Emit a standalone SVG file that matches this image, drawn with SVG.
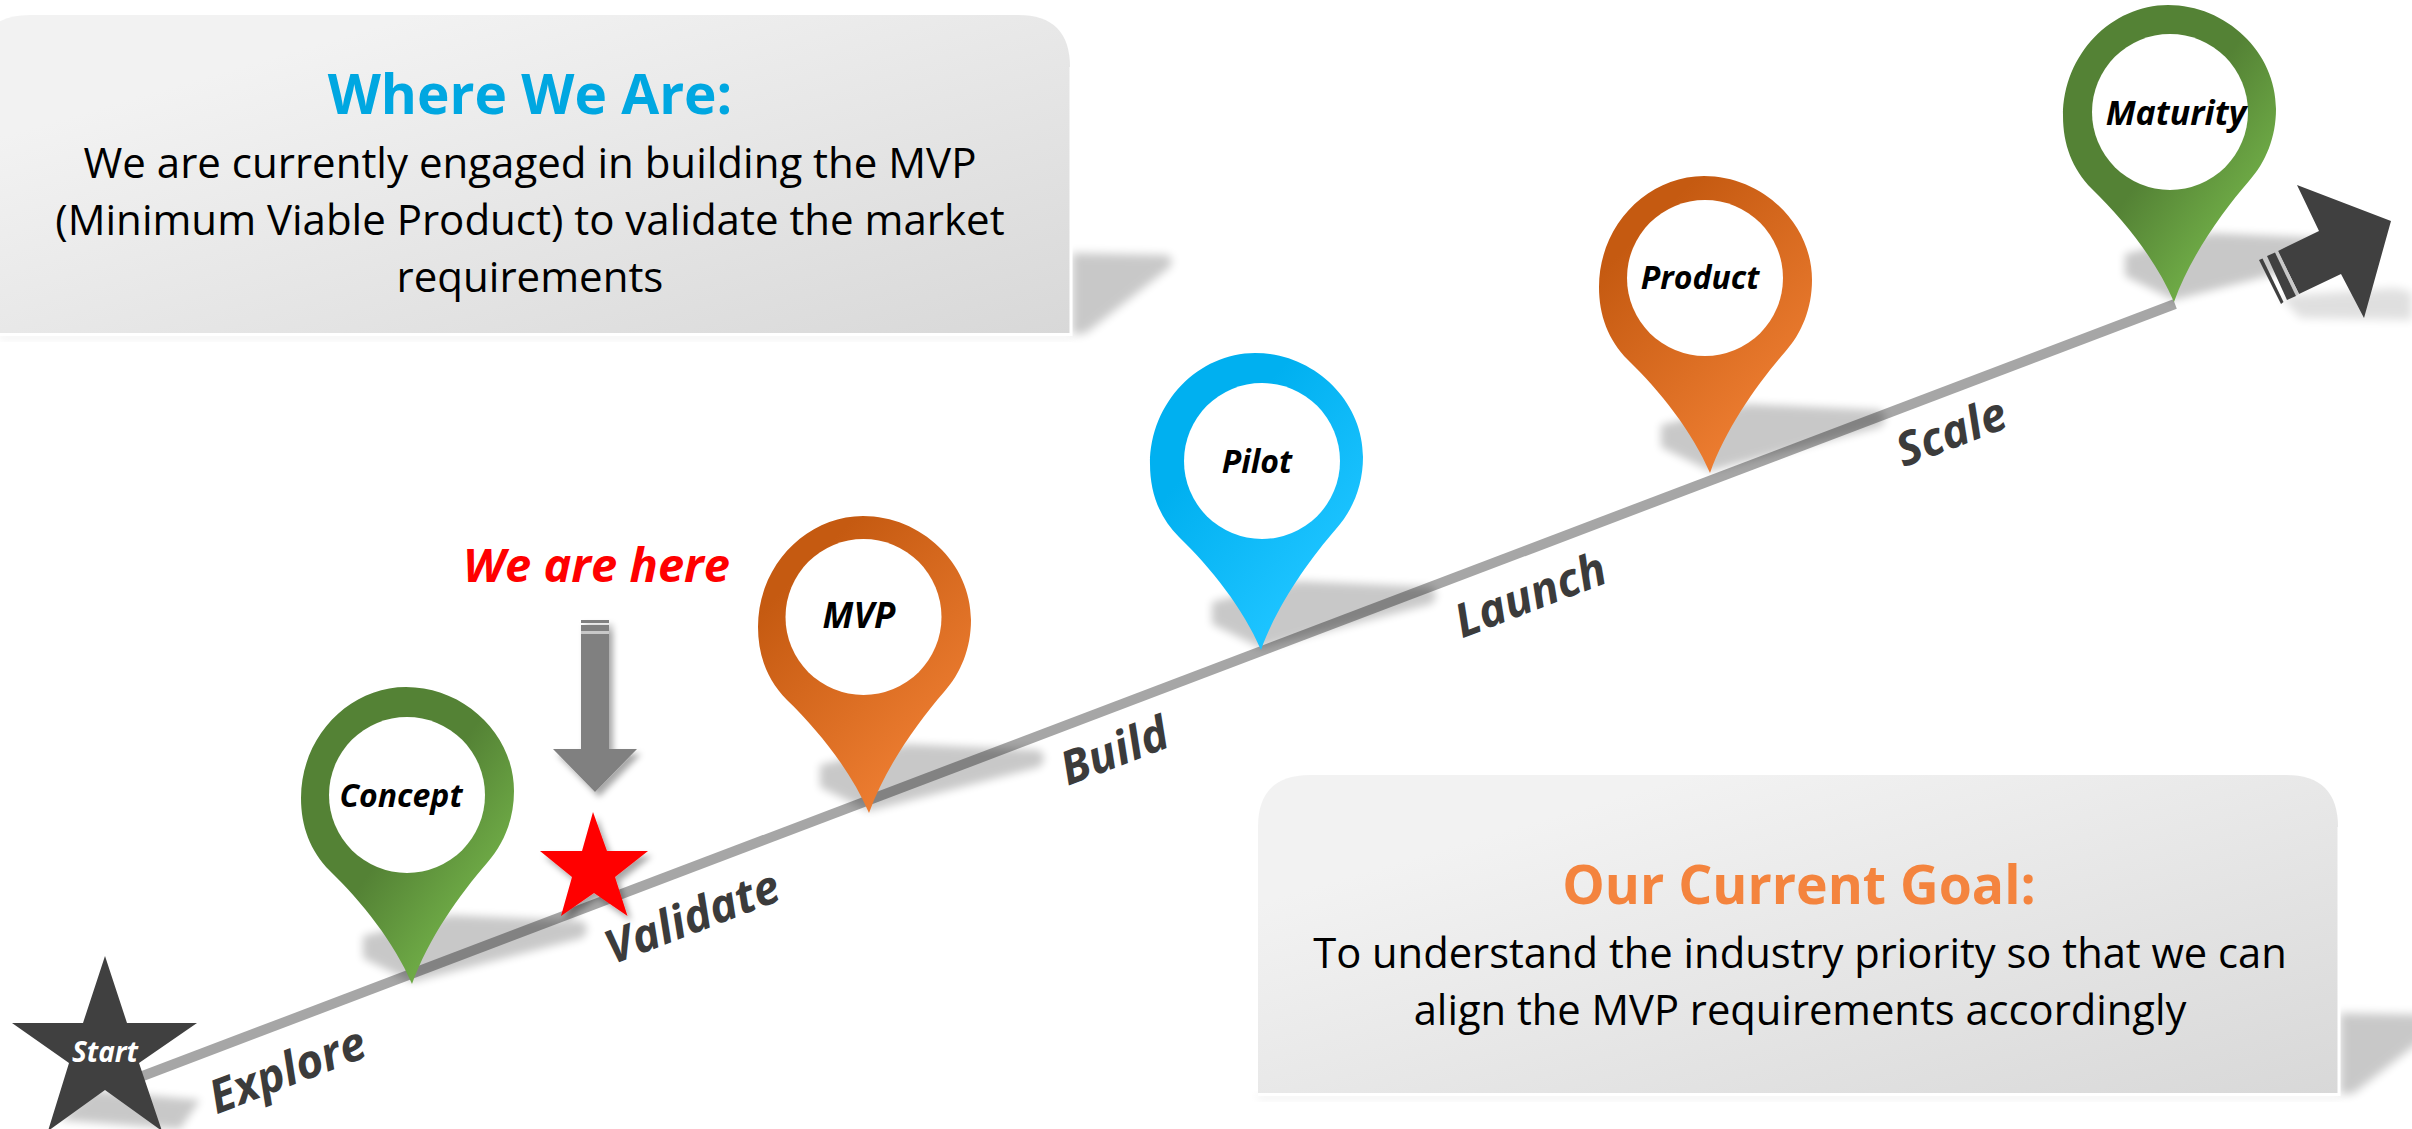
<svg xmlns="http://www.w3.org/2000/svg" width="2412" height="1129" viewBox="0 0 2412 1129">
<style>
text{font-family:"Open Sans","Noto Sans","Liberation Sans",sans-serif}
.head{font-size:55px;font-weight:700;text-anchor:middle}
.body{font-size:42px;fill:#000;text-anchor:middle}
.pl{font-size:32px;font-weight:700;font-style:italic;fill:#000;text-anchor:middle}
.st{font-size:46.500px;font-weight:700;font-style:italic;fill:#3b3b3b;text-anchor:middle}
.shadow{fill:#000;opacity:.21;filter:url(#b4)}
.boxshadow{fill:#000;opacity:.21;filter:url(#b5)}
.faint{fill:#000;opacity:.12;filter:url(#b5)}
.edge{fill:none;stroke:#fff;stroke-width:3}
.hole{fill:#fff}
</style>
<defs>
<filter id="b4" x="-30%" y="-50%" width="160%" height="200%"><feGaussianBlur stdDeviation="4"/></filter>
<filter id="b5" x="-30%" y="-50%" width="160%" height="200%"><feGaussianBlur stdDeviation="5"/></filter>
<filter id="ds" x="-20%" y="-20%" width="150%" height="150%"><feDropShadow dx="4" dy="5" stdDeviation="3" flood-color="#000" flood-opacity=".35"/></filter>
<linearGradient id="box" x1="0" y1="0" x2="1" y2="1"><stop offset=".2" stop-color="#f2f2f2"/><stop offset="1" stop-color="#d8d8d8"/></linearGradient>
<linearGradient id="green" x1="0.2" y1="0.25" x2="0.75" y2="0.8"><stop offset="0" stop-color="#548235"/><stop offset=".45" stop-color="#548235"/><stop offset="1" stop-color="#70ad47"/></linearGradient>
<linearGradient id="orange" x1="0.25" y1="0.15" x2="0.75" y2="0.85"><stop offset="0" stop-color="#c55a11"/><stop offset="1" stop-color="#ed7d31"/></linearGradient>
<linearGradient id="blue" x1="0.3" y1="0.3" x2="0.7" y2="0.8"><stop offset="0" stop-color="#00b0f0"/><stop offset="1" stop-color="#1cc3ff"/></linearGradient>
<path id="pin" d="M0,0C-18,-42 -50,-82 -82,-113C-102,-133 -111,-158 -111,-186C-111,-248 -62,-297 -6,-297C52,-297 102,-250 102,-193C102,-165 92,-140 75,-121C48,-90 16,-45 0,0Z"/>
<path id="pinshadow" d="M-49,-48L38,-69L170,-63Q180,-55 170,-46L0,-2L-49,-26Z"/>
</defs>
<rect width="2412" height="1129" fill="#fff"/>

<g id="box-where">
<path d="M1072,253L1165,255Q1175,256 1170,267L1086,333L1072,335Z" class="boxshadow"/>
<rect x="0" y="334" width="1072" height="5" fill="#eee" filter="url(#b4)"/>
<path d="M-22,334V67Q-22,15 30,15H1018Q1070,15 1070,67V334Z" fill="url(#box)"/>
<path d="M0,334.500H1071V67" class="edge"/>
<text class="head" x="530" y="114" fill="#00a7e1">Where We Are:</text>
<text class="body" x="530" y="178">We are currently engaged in building the MVP</text>
<text class="body" x="530" y="235">(Minimum Viable Product) to validate the market</text>
<text class="body" x="530" y="292">requirements</text>
</g>

<g id="box-goal">
<path d="M2340,1013L2433,1015Q2443,1016 2438,1027L2354,1093L2340,1095Z" class="boxshadow"/>
<rect x="1258" y="1094" width="1082" height="5" fill="#eee" filter="url(#b4)"/>
<path d="M1258,1094V827Q1258,775 1310,775H2286Q2338,775 2338,827V1094Z" fill="url(#box)"/>
<path d="M1258,1094.500H2339V827" class="edge"/>
<text class="head" x="1799" y="904" fill="#f4843e" style="font-size:53.500px">Our Current Goal:</text>
<text class="body" x="1800" y="968" style="font-size:41.700px">To understand the industry priority so that we can</text>
<text class="body" x="1800" y="1025" style="font-size:41.700px">align the MVP requirements accordingly</text>
</g>

<g id="connectors">
<line x1="140" y1="1077" x2="2175" y2="304" stroke="#a6a6a6" stroke-width="10"/>
</g>

<g id="shadows">
<use href="#pinshadow" x="412" y="984" class="shadow"/>
<use href="#pinshadow" x="869" y="813" class="shadow"/>
<use href="#pinshadow" x="1261" y="650" class="shadow"/>
<use href="#pinshadow" x="1710" y="473" class="shadow"/>
<use href="#pinshadow" x="2174" y="302" class="shadow"/>
</g>

<g id="pin-concept"><use href="#pin" x="412" y="984" fill="url(#green)"/><circle class="hole" cx="407" cy="795" r="78"/><text class="pl" x="401" y="807">Concept</text></g>
<g id="pin-mvp"><use href="#pin" x="869" y="813" fill="url(#orange)"/><circle class="hole" cx="863.500" cy="617" r="78"/><text class="pl" x="859" y="628" style="font-size:35px">MVP</text></g>
<g id="pin-pilot"><use href="#pin" x="1261" y="650" fill="url(#blue)"/><circle class="hole" cx="1262" cy="461" r="78"/><text class="pl" x="1257" y="473">Pilot</text></g>
<g id="pin-product"><use href="#pin" x="1710" y="473" fill="url(#orange)"/><circle class="hole" cx="1705" cy="278" r="78"/><text class="pl" x="1700" y="289">Product</text></g>
<g id="pin-maturity"><use href="#pin" x="2174" y="302" fill="url(#green)"/><circle class="hole" cx="2170" cy="112" r="78"/><text class="pl" x="2176" y="125" style="font-size:34px">Maturity</text></g>

<g id="start">
<path d="M90,1090L60,1120L180,1129L200,1100Z" class="shadow"/>
<path d="M105,956L127,1023H197L139,1063L162,1131L105,1090L48,1131L69,1063L12,1023H83Z" fill="#404040"/>
<text x="105" y="1062" font-size="28" font-weight="700" font-style="italic" fill="#fff" text-anchor="middle">Start</text>
</g>

<g id="marker-star"><path d="M593,812L607,851H648L615,877L627.500,916L594,893L561,916L572,877L540,851H582Z" fill="#f00" filter="url(#ds)"/></g>
<g id="here-label"><text x="596.500" y="582" font-size="47" font-weight="700" font-style="italic" fill="#f00" text-anchor="middle">We are here</text></g>
<g id="here-arrow" filter="url(#ds)">
<path d="M581,634H609V749H637L595,792L553,749H581Z" fill="#808080"/>
<rect x="581" y="631" width="28" height="3" fill="#c8c8c8"/>
<rect x="581" y="625" width="28" height="6" fill="#808080"/>
<rect x="581" y="620" width="28" height="3" fill="#808080"/>
</g>

<g id="big-arrow">
<path d="M2280,296L2395,288L2412,292V320L2300,318Z" class="faint"/>
<path d="M2297,185L2391,221L2364,318L2341,274L2299,294L2278,251L2319,231Z" fill="#404040"/>
<path d="M2275,252.500L2278,251L2299,294L2296,296Z" fill="#c8c8c8"/>
<path d="M2267,256L2275,252.500L2296,296L2287,300Z" fill="#404040"/>
<path d="M2259,260L2262.500,258.500L2283.500,302L2281,304Z" fill="#404040"/>
</g>

<g id="stage-labels">
<text class="st" transform="translate(293,1085) rotate(-21)">Explore</text>
<text class="st" transform="translate(698,932) rotate(-21)">Validate</text>
<text class="st" transform="translate(1120,766) rotate(-21)">Build</text>
<text class="st" transform="translate(1536,610) rotate(-21)">Launch</text>
<text class="st" transform="translate(1957,447) rotate(-21)">Scale</text>
</g>
</svg>
